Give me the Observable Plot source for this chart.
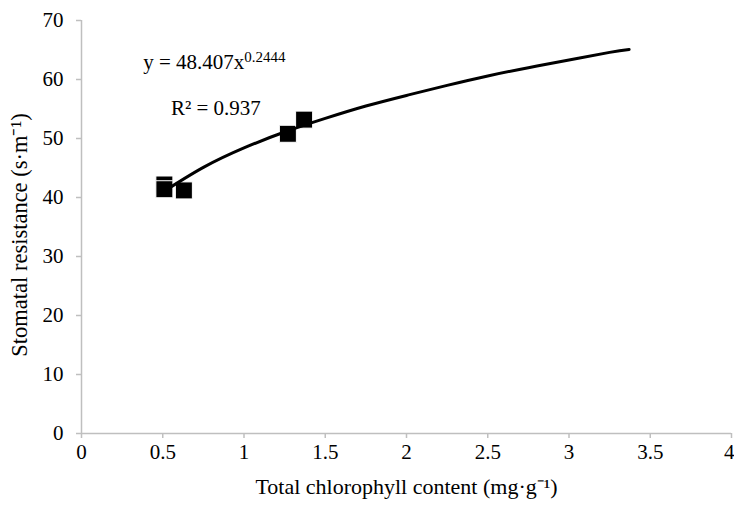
<!DOCTYPE html>
<html>
<head>
<meta charset="utf-8">
<script src="https://cdn.jsdelivr.net/npm/d3@7"></script>
<script src="https://cdn.jsdelivr.net/npm/@observablehq/plot@0.6"></script>
<style>
  html, body { margin: 0; padding: 0; background: #fff; }
  svg { display: block; }
  svg text, svg tspan { font-family: "Liberation Serif", "Times New Roman", serif !important; }
</style>
</head>
<body>
<div id="chart"></div>
<script>
// Observed points
const chlorophyll = [0.51, 0.51, 0.63, 1.27, 1.37];
const resistance  = [42.2, 41.4, 41.2, 50.8, 53.2];

// Power trendline
const trendX = [0.5, 0.75, 1.0, 1.25, 1.5, 1.75, 2.0, 2.25, 2.5, 2.75, 3.0, 3.25, 3.37];
const trendY = [40.9, 45.1, 48.4, 51.1, 53.4, 55.5, 57.3, 59.0, 60.6, 62.0, 63.3, 64.6, 65.1];

const xTicks = [0, 0.5, 1, 1.5, 2, 2.5, 3, 3.5, 4];
const yTicks = [0, 10, 20, 30, 40, 50, 60, 70];

const xLabel = "Total chlorophyll content (mg·g⁻¹)";
const yLabel = "Stomatal resistance (s·m⁻¹)";
const equationText = "y = 48.407x";
const equationExp = "0.2444";
const r2Text = "R² = 0.937";
const eqPos = {x: 0.38, y: 62.9};
const r2Pos = {x: 0.55, y: 55.1};

const points = chlorophyll.map((c, i) => ({x: c, y: resistance[i]}));
const trend = trendX.map((c, i) => ({x: c, y: trendY[i]}));

const axisColor = "#bfbfbf";
const font = "Liberation Serif, Times New Roman, serif";
const fmt = d => String(d);

const chart = Plot.plot({
  width: 734,
  height: 505,
  marginLeft: 81,
  marginRight: 3,
  marginTop: 20,
  marginBottom: 72,
  style: {fontFamily: font, fontSize: "21px", color: "#000", background: "#fff"},
  x: {domain: [0, 4]},
  y: {domain: [0, 70]},
  marks: [
    Plot.axisX({ticks: xTicks, tickFormat: fmt, tickSize: 5, tickPadding: 6, stroke: axisColor, strokeWidth: 1.5, fill: "#000", fontSize: 21, label: null}),
    Plot.axisY({ticks: yTicks, tickFormat: fmt, tickSize: 5, tickPadding: 13, stroke: axisColor, strokeWidth: 1.5, fill: "#000", fontSize: 21, label: null}),
    Plot.ruleY([0], {stroke: axisColor, strokeWidth: 1.5}),
    Plot.ruleX([0], {stroke: axisColor, strokeWidth: 1.5}),
    Plot.dot(points, {x: "x", y: "y", symbol: "square", r: 9.6, fill: "#000", stroke: "#fff", strokeWidth: 1}),
    Plot.line(trend, {x: "x", y: "y", curve: "natural", stroke: "#000", strokeWidth: 3}),
    Plot.text([equationText], {x: () => eqPos.x, y: () => eqPos.y, text: d => d, textAnchor: "start", fontSize: 21, fill: "#000"}),
    Plot.text([r2Text], {x: () => r2Pos.x, y: () => r2Pos.y, text: d => d, textAnchor: "start", fontSize: 21, fill: "#000"}),
    Plot.text([xLabel], {frameAnchor: "bottom", textAnchor: "middle", dy: 60, text: d => d, fontSize: 22, fill: "#000"}),
    Plot.text([yLabel], {frameAnchor: "left", textAnchor: "middle", dx: -62, dy: 8, rotate: -90, text: d => d, fontSize: 22.5, fill: "#000"})
  ]
});

d3.select(chart).attr("font-family", font);
d3.select(chart).selectAll("text").attr("font-family", font);

// add superscript exponent to equation
d3.select(chart).selectAll("text").each(function() {
  if (this.textContent === equationText) {
    d3.select(this).append("tspan").attr("dy", "-0.45em").attr("font-size", "15px").text(equationExp);
  }
});
// keep last x tick label inside the picture
d3.select(chart).selectAll("g[aria-label='x-axis tick label'] text").each(function() {
  if (this.textContent === "4") d3.select(this).attr("text-anchor", "end").attr("dx", 3);
});

document.getElementById("chart").appendChild(chart);
</script>
</body>
</html>
